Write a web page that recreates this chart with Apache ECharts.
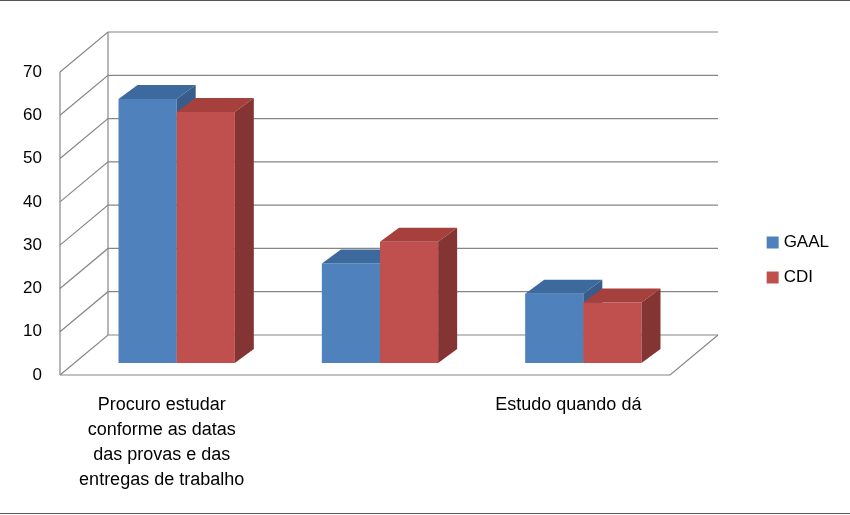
<!DOCTYPE html><html><head><meta charset="utf-8"><script src="https://cdn.jsdelivr.net/npm/echarts@6/dist/echarts.min.js"></script></head><body style="margin:0"><div id="c" style="width:850px;height:515px"></div><script>
const categories=['Procuro estudar\nconforme as datas\ndas provas e das\nentregas de trabalho','Estabeleço, no\ncronograma, uma\nrotina diária ou\nsemanal','Estudo quando dá'];
const gaal=[61,23,16];
const cdi=[58,28,14];
const yTicks=[0,10,20,30,40,50,60,70];
const DX=48,DY=-40,BX=15,BY=-12,PX=19,PY=-14;
const chart=echarts.init(document.getElementById('c'));
function bar(front,top,side,idx){return function(p,api){
  const cat=api.value(0),v=api.value(1);
  const bw=api.size([1,0])[0]*0.286;
  const c=api.coord([cat,v]),b=api.coord([cat,0]);
  const x0=c[0]+BX+(idx===0?-bw:0),x1=x0+bw,yt=c[1]+BY,yb=b[1]+BY;
  return {type:'group',children:[
   {type:'rect',shape:{x:x0,y:yt,width:bw,height:yb-yt},style:{fill:front}},
   {type:'polygon',shape:{points:[[x0,yt],[x1,yt],[x1+PX,yt+PY],[x0+PX,yt+PY]]},style:{fill:top}},
   {type:'polygon',shape:{points:[[x1,yt],[x1,yb],[x1+PX,yb+PY],[x1+PX,yt+PY]]},style:{fill:side}}]};
};}
chart.setOption({
 animation:false,
 graphic:[{type:'line',shape:{x1:0,y1:0.5,x2:850,y2:0.5},style:{stroke:'#555',lineWidth:1}},
          {type:'line',shape:{x1:0,y1:513.5,x2:850,y2:513.5},style:{stroke:'#555',lineWidth:1}}],
 legend:{orient:'vertical',right:16,top:229,itemGap:18,itemWidth:12,itemHeight:12,icon:'rect',textStyle:{fontSize:17,fontFamily:'Liberation Sans Narrow, Liberation Sans',color:'#000'},data:['GAAL','CDI']},
 grid:{left:60,right:180,top:72,bottom:140},
 xAxis:{type:'category',data:categories,axisLine:{show:false},axisTick:{show:false},axisLabel:{fontSize:18,lineHeight:25,color:'#000',fontFamily:'Liberation Sans Narrow, Liberation Sans',margin:18}},
 yAxis:{type:'value',min:0,max:70,interval:10,splitLine:{show:false},axisLine:{show:false},axisLabel:{fontSize:17,color:'#000',fontFamily:'Liberation Sans',margin:18,padding:[6,0,0,0]}},
 series:[
  {type:'custom',silent:true,z:1,data:yTicks.map(v=>[0,v]),renderItem:function(p,api){
    const cs=p.coordSys,y=api.coord([0,api.value(1)])[1];
    const xl=cs.x,xr=cs.x+cs.width;
    const st={stroke:'#868686',lineWidth:1.2,fill:'none'};
    const ch=[{type:'polyline',shape:{points:[[xl,y],[xl+DX,y+DY],[xr+DX,y+DY]]},style:st}];
    if(api.value(1)===0){ch.push({type:'polyline',shape:{points:[[xl,y],[xr,y],[xr+DX,y+DY]]},style:st});
      ch.push({type:'line',shape:{x1:xl,y1:y,x2:xl,y2:cs.y},style:st});
      ch.push({type:'line',shape:{x1:xl+DX,y1:y+DY,x2:xl+DX,y2:cs.y+DY},style:st});}
    return {type:'group',children:ch};}},
  {name:'GAAL',type:'custom',z:2,itemStyle:{color:'#4F81BD'},data:gaal.map((v,i)=>[i,v]),renderItem:bar('#4F81BD','#3D6A9E','#385D8A',0)},
  {name:'CDI',type:'custom',z:3,itemStyle:{color:'#C0504D'},data:cdi.map((v,i)=>[i,v]),renderItem:bar('#C0504D','#A5403D','#843432',1)}
 ]});
</script></body></html>
